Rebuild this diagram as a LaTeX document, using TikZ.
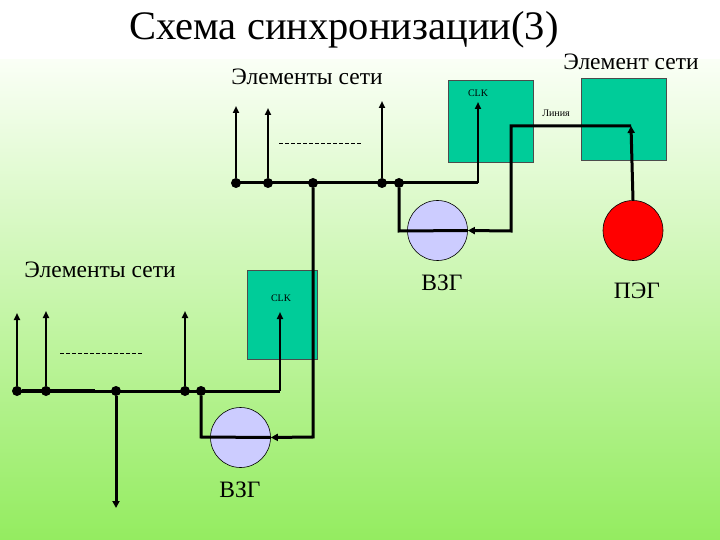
\documentclass[tikz,border=0pt]{standalone}
\usepackage{fontspec}
\setmainfont{Liberation Serif}
\usetikzlibrary{arrows.meta}
\definecolor{boxteal}{RGB}{0,204,153}
\definecolor{vzg}{RGB}{204,204,255}
\definecolor{bgtop}{RGB}{250,255,246}
\definecolor{bgbot}{RGB}{148,236,96}
\tikzset{
  bus/.style={line width=3pt},
  upar/.style={line width=2.4pt,-{Triangle[length=7pt,width=6pt]}},
  sig/.style={line width=3pt,-{Triangle[length=7pt,width=7pt]}},
  dotn/.style={circle,fill=black,inner sep=0pt,minimum size=10pt},
  elbox/.style={draw=black!70,fill=boxteal,line width=0.8pt,inner sep=0pt},
  gen/.style={circle,draw=black,line width=0.6pt,inner sep=0pt,minimum size=60pt},
  lbl/.style={font=\fontsize{23.5}{25}\selectfont},
  small/.style={font=\fontsize{10}{11}\selectfont}
}
\begin{document}
\begin{tikzpicture}[x=1pt,y=-1pt]
\useasboundingbox (0,0) rectangle (720,540);
\fill[white] (0,0) rectangle (720,60);
\shade[top color=bgtop,bottom color=bgbot] (0,60) rectangle (720,540);

% titles
\node[font=\fontsize{40.5}{44}\selectfont] (title) at (344,30) {Схема синхронизации(3)};
\node[lbl] (t1) at (631,62) {Элемент сети};
\node[lbl] (t2) at (307,77) {Элементы сети};
\node[lbl] (t3) at (100,270) {Элементы сети};

% boxes
\node[elbox,minimum width=85pt,minimum height=82pt] (clk1) at (490.5,121) {};
\node[small] (clk1t) at (478,93) {CLK};
\node[elbox,minimum width=85pt,minimum height=82pt] (ne) at (623.5,119) {};
\node[elbox,minimum width=70pt,minimum height=89pt] (clk2) at (282,314.5) {};
\node[small] (clk2t) at (281,298) {CLK};
\node[small] (lin) at (556,113) {Линия};

% generators
\node[gen,fill=vzg] (vzg1) at (437.5,230.5) {};
\node[lbl] (vzg1t) at (442,283) {ВЗГ};
\node[gen,fill=red] (peg) at (633,230.5) {};
\node[lbl] (pegt) at (637,291) {ПЭГ};
\node[gen,fill=vzg] (vzg2) at (240.5,437.5) {};
\node[lbl] (vzg2t) at (240,490) {ВЗГ};

% upper network
\coordinate (ua) at (236,183);
\coordinate (ue) at (478,183);
\node[dotn] (u1) at (236,183) {};
\node[dotn] (u2) at (268,183) {};
\node[dotn] (u3) at (313,183) {};
\node[dotn] (u4) at (382,183) {};
\node[dotn] (u5) at (399,183) {};
\coordinate (u1t) at (236,106);
\coordinate (u2t) at (268,108);
\coordinate (u4t) at (382,101);
\coordinate (clk1in) at (478,102);
\draw[bus] (ua) -- (ue);
\draw[upar] (u1) -- (u1t);
\draw[upar] (u2) -- (u2t);
\draw[upar] (u4) -- (u4t);
\draw[upar] (ue) -- (clk1in);
\coordinate (d1a) at (279,143);
\coordinate (d1b) at (361,143);
\draw[dashed,dash pattern=on 4pt off 2pt,line width=0.7pt] (d1a) -- (d1b);

% upper VZG connections
\coordinate (v1l) at (399,231);
\draw[bus] (u5) -- (v1l) -- (vzg1.east);
\coordinate (lnA) at (631,126);
\coordinate (lnB) at (511,126);
\coordinate (lnC) at (511,231);
\draw[bus,-{Triangle[length=7pt,width=7pt]}] (lnA) -- (lnB) -- (lnC) -- (vzg1.east);
\draw[sig] (peg.north) -- (lnA);

% lower network
\coordinate (la) at (15,391);
\coordinate (le) at (280,391);
\node[dotn] (l1) at (17,391) {};
\node[dotn] (l2) at (46,391) {};
\node[dotn] (l3) at (116,391) {};
\node[dotn] (l4) at (185,391) {};
\node[dotn] (l5) at (201,391) {};
\coordinate (l1t) at (17,313);
\coordinate (l2t) at (46,311);
\coordinate (l4t) at (185,311);
\coordinate (clk2in) at (280,312);
\coordinate (ldn) at (116,508);
\draw[bus] (la) -- (le);
\draw[line width=4.5pt] (l1) -- (95,391);
\draw[upar] (l1) -- (l1t);
\draw[upar] (l2) -- (l2t);
\draw[upar] (l4) -- (l4t);
\draw[upar] (le) -- (clk2in);
\draw[sig] (l3) -- (ldn);
\coordinate (d2a) at (60,353);
\coordinate (d2b) at (142,353);
\draw[dashed,dash pattern=on 4pt off 2pt,line width=0.7pt] (d2a) -- (d2b);

% lower VZG connections
\coordinate (v2l) at (201,437);
\draw[bus] (l5) -- (v2l) -- (vzg2.east);
\coordinate (v2r) at (313,437);
\draw[bus,-{Triangle[length=7pt,width=7pt]}] (u3) -- (v2r) -- (vzg2.east);
\end{tikzpicture}
\end{document}
